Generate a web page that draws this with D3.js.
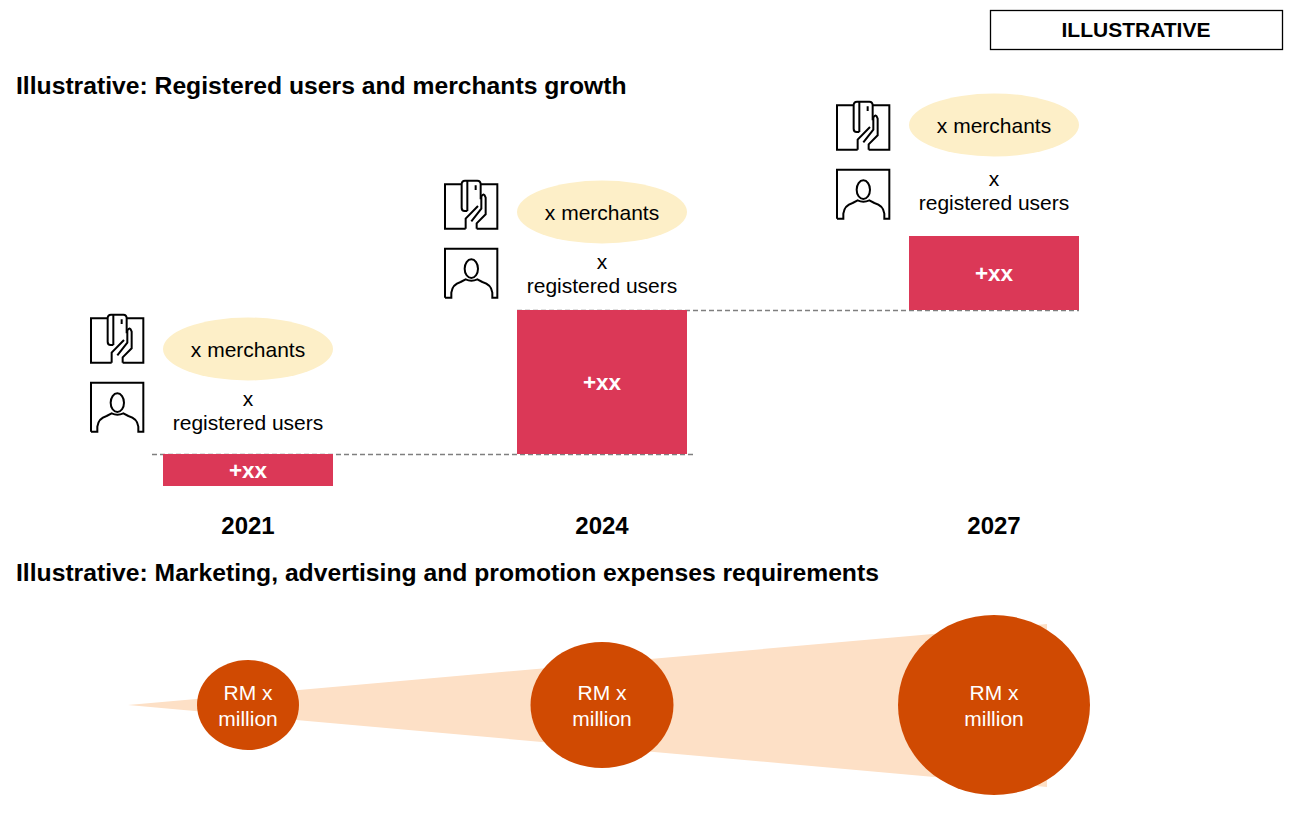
<!DOCTYPE html>
<html>
<head>
<meta charset="utf-8">
<script src="https://d3js.org/d3.v7.min.js"></script>
<style>
  body { margin: 0; background: #fff; }
  svg { display: block; }
  text { font-family: "Liberation Sans", Arial, sans-serif; fill: #000; }
  text.heading { font-size: 24.7px; font-weight: bold; }
  text.year { font-size: 24px; font-weight: bold; text-anchor: middle; }
  text.label { font-size: 21px; text-anchor: middle; }
  text.gain { font-size: 22.5px; font-weight: bold; text-anchor: middle; fill: #fff; }
  text.spend { font-size: 21px; text-anchor: middle; fill: #fff; }
  .icon path, .icon ellipse { fill: none; stroke: #000; stroke-width: 6; stroke-linejoin: miter; }
</style>
</head>
<body>
<div id="chart"></div>
<script>
// illustrative values
var years = ["2021", "2024", "2027"];
var gains = [32, 144, 74];
var gainLabels = ["+xx", "+xx", "+xx"];
var merchantLabels = ["x merchants", "x merchants", "x merchants"];
var userLabels = ["registered users", "registered users", "registered users"];
var spendSizes = [1, 1.4, 2];
var spendLabels = ["RM x", "million"];

var width = 1293, height = 822;

var svg = d3.select("#chart").append("svg")
  .attr("width", width)
  .attr("height", height);

// scales
var x = d3.scaleOrdinal().domain(years).range([248, 602, 994]);
var y = d3.scaleLinear().domain([0, 250]).range([486, 236]);
var rx = d3.scaleLinear().domain([1, 1.4, 2]).range([51, 71.5, 96]);
var ry = d3.scaleLinear().domain([1, 1.4, 2]).range([45, 63, 90]);
var barWidth = 170;
var spendY = 705;

// stacked bar tops
var running = 0;
var bars = years.map(function(year, i) {
  var b = { year: year, start: running, end: running + gains[i], i: i };
  running += gains[i];
  return b;
});

// offsets of the annotation block, it isn't the same above each bar
var ovalOffset = [105, 98, 111];
var textOffset = [24, 17, 26];
var iconOffset = [144, 134, 139];

// illustrative tag
svg.append("rect")
  .attr("x", 990.5).attr("y", 10.5)
  .attr("width", 292).attr("height", 39)
  .attr("fill", "#fff").attr("stroke", "#000").attr("stroke-width", 1.3);
svg.append("text")
  .attr("x", 1136).attr("y", 36.5)
  .attr("text-anchor", "middle")
  .style("font-size", "21px").style("font-weight", "bold")
  .text("ILLUSTRATIVE");

svg.append("text").attr("class", "heading")
  .attr("x", 16).attr("y", 94)
  .text("Illustrative: Registered users and merchants growth");
svg.append("text").attr("class", "heading")
  .attr("x", 16).attr("y", 581)
  .text("Illustrative: Marketing, advertising and promotion expenses requirements");

// dashed connectors
svg.selectAll("line.connector")
  .data(bars.slice(0, 2))
  .enter().append("line")
  .attr("class", "connector")
  .attr("x1", function(d) { return x(d.year) - (d.i == 0 ? 96 : 85); })
  .attr("x2", function(d) { return x(years[d.i + 1]) + (d.i == 0 ? 93 : 85); })
  .attr("y1", function(d) { return y(d.end) + 0.5; })
  .attr("y2", function(d) { return y(d.end) + 0.5; })
  .attr("stroke", "#7f7f7f")
  .attr("stroke-width", 1.3)
  .attr("stroke-dasharray", "5 3");

// bars
svg.selectAll("rect.bar")
  .data(bars)
  .enter().append("rect")
  .attr("class", "bar")
  .attr("x", function(d) { return x(d.year) - barWidth / 2; })
  .attr("y", function(d) { return y(d.end); })
  .attr("width", barWidth)
  .attr("height", function(d) { return y(d.start) - y(d.end); })
  .attr("fill", "#db3857");

svg.selectAll("text.gain")
  .data(bars)
  .enter().append("text")
  .attr("class", "gain")
  .attr("x", function(d) { return x(d.year); })
  .attr("y", function(d) { return (y(d.start) + y(d.end)) / 2 + 8; })
  .text(function(d) { return gainLabels[d.i]; });

svg.selectAll("text.year")
  .data(bars)
  .enter().append("text")
  .attr("class", "year")
  .attr("x", function(d) { return x(d.year); })
  .attr("y", 534)
  .text(function(d) { return d.year; });

// annotation above every bar
var notes = svg.selectAll("g.note")
  .data(bars)
  .enter().append("g")
  .attr("class", "note");

notes.append("ellipse")
  .attr("cx", function(d) { return x(d.year); })
  .attr("cy", function(d) { return y(d.end) - ovalOffset[d.i]; })
  .attr("rx", 85).attr("ry", 31.5)
  .attr("fill", "#fdefc8");

notes.append("text").attr("class", "label")
  .attr("x", function(d) { return x(d.year); })
  .attr("y", function(d) { return y(d.end) - ovalOffset[d.i] + 8; })
  .text(function(d) { return merchantLabels[d.i]; });

notes.append("text").attr("class", "label")
  .attr("x", function(d) { return x(d.year); })
  .attr("y", function(d) { return y(d.end) - textOffset[d.i] - 24.5; })
  .text("x");

notes.append("text").attr("class", "label")
  .attr("x", function(d) { return x(d.year); })
  .attr("y", function(d) { return y(d.end) - textOffset[d.i]; })
  .text(function(d) { return userLabels[d.i]; });

// icons are drawn in a 3x box and scaled down
var icons = notes.append("g")
  .attr("class", "icon")
  .attr("transform", function(d) {
    return "translate(" + (x(d.year) - 168) + "," + (y(d.end) - iconOffset[d.i]) + ") scale(0.3333)";
  });

// card in hand
icons.append("path").attr("d", "M83 25H33V158H95M140 25H190V158H128");
icons.append("path").attr("d", "M100 105H92Q83 105 83 95V25Q83 14 93 14H130Q140 14 140 25V70M100 14V105M125 28V42");
icons.append("path").attr("d", "M95 158V128L132 90M128 158V142L155 115V65Q149 48 142 62V98L112 136");

// person
icons.append("path").attr("d", "M33 365V218H190V365H175V350Q172 325 145 318L130 310Q112 318 95 310L80 318Q55 325 52 350V365H33");
icons.append("ellipse").attr("cx", 112).attr("cy", 278).attr("rx", 20).attr("ry", 28);

// expenses wedge, follows the same baseline as the circles
var wedgeLine = d3.line();
var wedgeStart = 128, wedgeEnd = 1047;
svg.append("path")
  .attr("d", wedgeLine([[wedgeStart, spendY], [wedgeEnd, spendY - 81], [wedgeEnd, spendY + 82]]) + "Z")
  .attr("fill", "#fde0c6");

svg.selectAll("ellipse.spend")
  .data(spendSizes)
  .enter().append("ellipse")
  .attr("class", "spend")
  .attr("cx", function(d, i) { return x(years[i]); })
  .attr("cy", spendY)
  .attr("rx", function(d) { return rx(d); })
  .attr("ry", function(d) { return ry(d); })
  .attr("fill", "#d04a02");

years.forEach(function(year) {
  spendLabels.forEach(function(line, j) {
    svg.append("text").attr("class", "spend")
      .attr("x", x(year))
      .attr("y", 700 + j * 26)
      .text(line);
  });
});
</script>
</body>
</html>
